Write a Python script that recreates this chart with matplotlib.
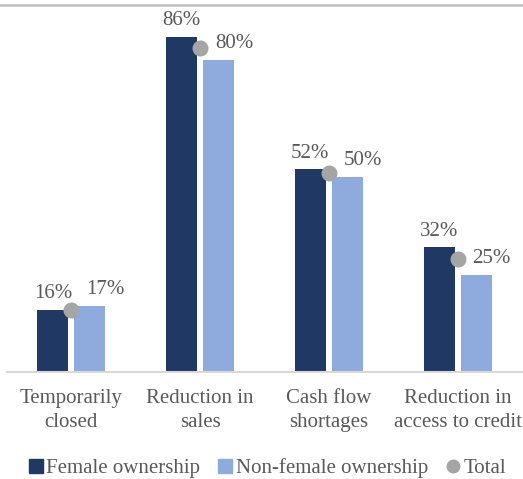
import matplotlib.pyplot as plt
import numpy as np
from matplotlib.lines import Line2D

categories = ["Temporarily\nclosed", "Reduction in\nsales", "Cash flow\nshortages", "Reduction in\naccess to credit"]
female = [16, 86, 52, 32]
non_female = [17, 80, 50, 25]
total = [16, 83, 51, 29]

navy = "#1F3864"
light = "#8FAADC"
dot = "#A5A5A5"
txt = "#595959"

plt.rcParams["font.family"] = ["Liberation Serif", "DejaVu Serif"]

fig = plt.figure(figsize=(5.23, 4.79), dpi=100)
ax = fig.add_axes([7/523, 107/479, 515/523, 351/479])

x = np.arange(len(categories))
w = 0.241
off = 0.144
ax.bar(x - off, female, w, color=navy, zorder=2)
ax.bar(x + off, non_female, w, color=light, zorder=2)
ax.plot(x, total, "o", color=dot, markersize=10.5, zorder=3, clip_on=False)

for xi, v in zip(x, female):
    ax.annotate(f"{v}%", (xi - off, v), xytext=(0, 4.5), textcoords="offset points",
                ha="center", va="bottom", fontsize=15, color=txt, annotation_clip=False)
for xi, v in zip(x, non_female):
    ax.annotate(f"{v}%", (xi + off, v), xytext=(11, 5), textcoords="offset points",
                ha="center", va="bottom", fontsize=15, color=txt, annotation_clip=False)

ax.set_xlim(-0.5, 3.5)
ax.set_ylim(0, 90)
ax.set_yticks([])
ax.set_xticks(x)
ax.set_xticklabels(categories, fontsize=15, color=txt, linespacing=1.35)
ax.tick_params(axis="x", length=0, pad=12)
for s in ["left", "right", "top"]:
    ax.spines[s].set_visible(False)
ax.spines["bottom"].set_color("#D9D9D9")
ax.spines["bottom"].set_linewidth(1.5)

# rule under the (cropped) title
fig.add_artist(Line2D([0, 1], [1 - 5/479, 1 - 5/479], color="#BFBFBF", lw=1.8))

handles = [
    Line2D([], [], marker="s", color=navy, linestyle="", markersize=10),
    Line2D([], [], marker="s", color=light, linestyle="", markersize=10),
    Line2D([], [], marker="o", color=dot, linestyle="", markersize=9),
]
fig.legend(handles, ["Female ownership", "Non-female ownership", "Total"],
           loc="center", bbox_to_anchor=(0.51, 11/479), ncol=3, frameon=False,
           fontsize=15, labelcolor=txt, handlelength=0.8, handletextpad=0.1,
           columnspacing=0.8)

fig.savefig("out.png", dpi=100)
